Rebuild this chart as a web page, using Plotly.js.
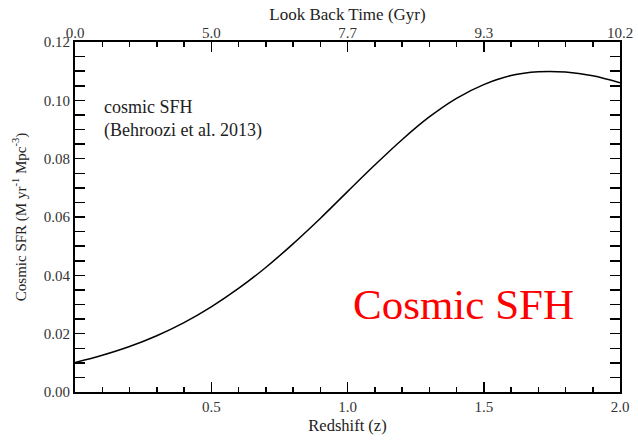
<!DOCTYPE html>
<html>
<head>
<meta charset="utf-8">
<script src="https://cdn.plot.ly/plotly-3.0.1.min.js"></script>
<style>html,body{margin:0;padding:0;background:#fff;}#chart{width:638px;height:441px;}</style>
</head>
<body>
<div id="chart"></div>
<script>
// Redshift grid and cosmic SFR
const redshift = [0.0, 0.1, 0.2, 0.3, 0.4, 0.5, 0.6, 0.7, 0.8, 0.9, 1.0,
                  1.1, 1.2, 1.3, 1.4, 1.5, 1.6, 1.7, 1.8, 1.9, 2.0];
const cosmicSFR = [0.0101, 0.0126, 0.0156, 0.0193, 0.0238, 0.0292, 0.0355, 0.0427, 0.0508, 0.0595, 0.0687,
                   0.0778, 0.0865, 0.0943, 0.1007, 0.1054, 0.1085, 0.1098, 0.1097, 0.1084, 0.1060];

// Bottom axis ticks
const zTickVals = [0.0, 0.5, 1.0, 1.5, 2.0];
const zTickText = ['', '0.5', '1.0', '1.5', '2.0'];
// Top axis (look back time) labels at the same redshifts
const lookBackText = ['0.0', '5.0', '7.7', '9.3', '10.2'];

const serif = 'Liberation Serif, Times New Roman, serif';

const traces = [
  {
    x: redshift, y: cosmicSFR, type: 'scatter', mode: 'lines',
    line: {color: '#000', width: 1.5, shape: 'spline'},
    hoverinfo: 'skip', showlegend: false
  },
  {
    x: [zTickVals[0], zTickVals[zTickVals.length - 1]], y: [0, 0], xaxis: 'x2', type: 'scatter', mode: 'markers',
    marker: {opacity: 0}, hoverinfo: 'skip', showlegend: false
  }
];

const layout = {
  width: 638, height: 441,
  margin: {l: 75, r: 18, t: 42, b: 49},
  paper_bgcolor: '#fff', plot_bgcolor: '#fff',
  font: {family: serif, color: '#222', size: 15},
  xaxis: {
    range: [0, 2], tickvals: zTickVals, ticktext: zTickText,
    ticks: 'inside', ticklen: 10, tickwidth: 1.5, tickcolor: '#000',
    minor: {dtick: 0.1, ticks: 'inside', ticklen: 5, tickwidth: 1.5, tickcolor: '#000'},
    showline: true, linewidth: 2, linecolor: '#000', mirror: 'allticks',
    showgrid: false, zeroline: false,
    tickfont: {family: serif, size: 15, color: '#333'},
    title: {text: 'Redshift (z)', font: {family: serif, size: 16.5, color: '#222'}, standoff: 5}
  },
  xaxis2: {
    overlaying: 'x', side: 'top', range: [0, 2],
    tickvals: zTickVals, ticktext: lookBackText, ticks: '',
    showline: false, showgrid: false, zeroline: false,
    tickfont: {family: serif, size: 15, color: '#333'},
    title: {text: 'Look Back Time (Gyr)', font: {family: serif, size: 17, color: '#222'}, standoff: 0}
  },
  yaxis: {
    range: [0, 0.12], dtick: 0.02, tick0: 0, tickformat: '.2f',
    ticks: 'inside', ticklen: 10, tickwidth: 1.5, tickcolor: '#000',
    minor: {dtick: 0.005, ticks: 'inside', ticklen: 5, tickwidth: 1.5, tickcolor: '#000'},
    showline: true, linewidth: 2, linecolor: '#000', mirror: 'allticks',
    showgrid: false, zeroline: false,
    tickfont: {family: serif, size: 15, color: '#333'},
    title: {text: 'Cosmic SFR (M yr<sup>-1</sup> Mpc<sup>-3</sup>)', font: {family: serif, size: 15, color: '#222'}, standoff: 14}
  },
  annotations: [
    {text: 'cosmic SFH<br>(Behroozi et al. 2013)', xref: 'paper', yref: 'paper',
     x: 0.05, y: 0.85, xanchor: 'left', yanchor: 'top', align: 'left', showarrow: false,
     font: {family: serif, size: 18, color: '#222'}},
    {text: 'Cosmic SFH', xref: 'paper', yref: 'paper',
     x: 0.713, y: 0.25, xanchor: 'center', yanchor: 'middle', showarrow: false,
     font: {family: serif, size: 43, color: '#ff0000'}}
  ]
};

Plotly.newPlot('chart', traces, layout, {displayModeBar: false, staticPlot: true});
</script>
</body>
</html>
